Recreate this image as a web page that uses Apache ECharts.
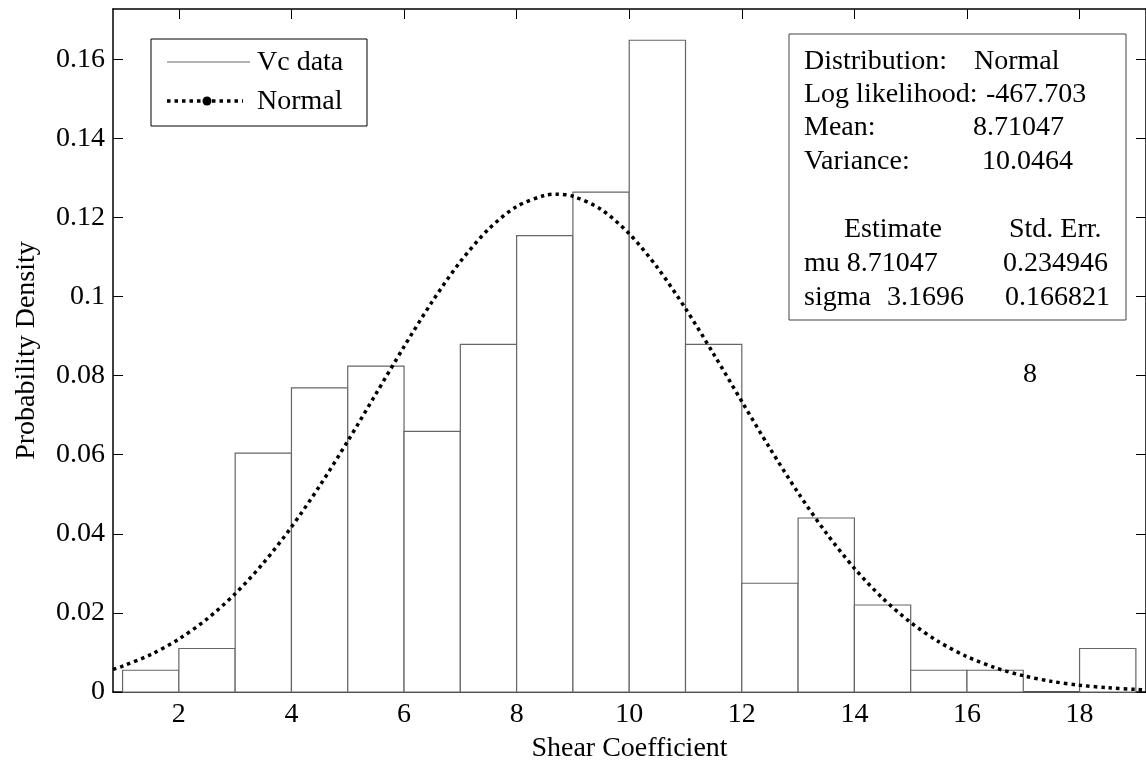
<!DOCTYPE html>
<html>
<head>
<meta charset="utf-8">
<script src="https://cdn.jsdelivr.net/npm/echarts@6/dist/echarts.min.js"></script>
<style>
html,body{margin:0;padding:0;background:#fff;}
#chart{width:1146px;height:768px;}
</style>
</head>
<body>
<div id="chart"></div>
<script>
// Histogram bin edges (Shear Coefficient) and densities
var binEdges = [1,2,3,4,5,6,7,8,9,10,11,12,13,14,15,16,17,18,19];
var densities = [0.0055,0.011,0.0604,0.0769,0.0824,0.0659,0.0879,0.1154,0.1264,0.1648,0.0879,0.0275,0.044,0.022,0.0055,0.0055,0,0.011];

// Fitted normal curve
var curveX = [0.83,1,1.5,2,2.5,3,3.5,4,4.5,5,5.5,6,6.5,7,7.5,8,8.5,8.71,9,9.5,10,10.5,11,11.5,12,12.5,13,13.5,14,14.5,15,15.5,16,16.5,17,17.5,18,18.5,19,19.18];
var curveY = [0.00573,0.00653,0.00946,0.01339,0.01846,0.02483,0.03259,0.04172,0.05209,0.06344,0.07536,0.08732,0.09870,0.10881,0.11702,0.12275,0.12559,0.12587,0.12535,0.12202,0.11587,0.10733,0.09697,0.08545,0.07346,0.06159,0.05038,0.04019,0.03128,0.02374,0.01758,0.01269,0.00894,0.00614,0.00412,0.00269,0.00172,0.00107,0.00065,0.00054];

var xTicks = [2,4,6,8,10,12,14,16,18];
var yTicks = [0,0.02,0.04,0.06,0.08,0.1,0.12,0.14,0.16];

var legendNames = ['Vc data','Normal'];
var statsLeft = ['Distribution:','Log likelihood:','Mean:','Variance:'];
var statsRight = ['Normal','-467.703','8.71047','10.0464'];
var estHeader = ['Estimate','Std. Err.'];
var estRows = [['mu 8.71047','','0.234946'],['sigma','3.1696','0.166821']];
var extraLabel = '8';

var FONT = 'Liberation Serif';
var FS = 28;

var barData = densities.map(function(d,i){ return [binEdges[i], binEdges[i+1], d]; });
var lineData = curveX.map(function(x,i){ return [x, curveY[i]]; });

var chart = echarts.init(document.getElementById('chart'), null, {renderer:'canvas'});

function txt(x, y, s, align){
  return {type:'text', x:x, y:y, z:100, style:{text:s, font: FS+'px "'+FONT+'"', fill:'#000', align:align||'left', verticalAlign:'middle'}};
}

var graphics = [];
// legend box
graphics.push({type:'rect', z:90, shape:{x:151, y:39, width:216, height:87}, style:{fill:'#fff', stroke:'#000', lineWidth:1}});
graphics.push({type:'line', z:100, shape:{x1:167, y1:62, x2:250, y2:62}, style:{stroke:'#666', lineWidth:1}});
graphics.push(txt(257, 63, legendNames[0]));
graphics.push({type:'line', z:100, shape:{x1:167, y1:101, x2:243, y2:101}, style:{stroke:'#000', lineWidth:3.5, lineDash:[3.5,4]}});
graphics.push({type:'circle', z:101, shape:{cx:207, cy:101, r:4.5}, style:{fill:'#000'}});
graphics.push(txt(257, 102, legendNames[1]));
// stats box
graphics.push({type:'rect', z:90, shape:{x:789, y:34, width:337, height:286}, style:{fill:'#fff', stroke:'#444', lineWidth:1}});
var rightX = [974, 986, 973, 982];
var rowsY = [62, 95, 128, 162];
for (var i=0;i<4;i++){
  graphics.push(txt(804, rowsY[i], statsLeft[i]));
  graphics.push(txt(rightX[i], rowsY[i], statsRight[i]));
}
graphics.push(txt(844, 230, estHeader[0]));
graphics.push(txt(1009, 230, estHeader[1]));
graphics.push(txt(804, 264, estRows[0][0]));
graphics.push(txt(1003, 264, estRows[0][2]));
graphics.push(txt(804, 298, estRows[1][0]));
graphics.push(txt(887, 298, estRows[1][1]));
graphics.push(txt(1005, 298, estRows[1][2]));
graphics.push(txt(1030, 375, extraLabel, 'center'));

var axisLine = {show:true, onZero:false, lineStyle:{color:'#000', width:1.5}};
var tickStyle = {color:'#000', width:1};

chart.setOption({
  animation:false,
  backgroundColor:'#fff',
  grid:{left:113, top:9, width:1034, height:684, containLabel:false},
  xAxis:[{
    type:'value', min:0.83, max:19.18, position:'bottom',
    axisLine:axisLine,
    axisTick:{show:true, inside:true, length:10, customValues:xTicks, lineStyle:tickStyle},
    axisLabel:{show:true, customValues:xTicks, margin:9, color:'#000', fontFamily:FONT, fontSize:FS},
    splitLine:{show:false},
    name:'Shear Coefficient', nameLocation:'middle', nameGap:43,
    nameTextStyle:{color:'#000', fontFamily:FONT, fontSize:FS}
  },{
    type:'value', min:0.83, max:19.18, position:'top',
    axisLine:axisLine,
    axisTick:{show:true, inside:true, length:10, customValues:xTicks, lineStyle:tickStyle},
    axisLabel:{show:false},
    splitLine:{show:false}
  }],
  yAxis:[{
    type:'value', min:0, max:0.1727, position:'left',
    axisLine:axisLine,
    axisTick:{show:true, inside:true, length:10, customValues:yTicks, lineStyle:tickStyle},
    axisLabel:{show:true, customValues:yTicks, margin:8, color:'#000', fontFamily:FONT, fontSize:FS},
    splitLine:{show:false},
    name:'Probability Density', nameLocation:'middle', nameGap:72, nameRotate:90,
    nameTextStyle:{color:'#000', fontFamily:FONT, fontSize:FS}
  },{
    type:'value', min:0, max:0.1727, position:'right',
    axisLine:axisLine,
    axisTick:{show:true, inside:true, length:10, customValues:yTicks, lineStyle:tickStyle},
    axisLabel:{show:false},
    splitLine:{show:false}
  }],
  series:[{
    name:'Vc data', type:'custom', xAxisIndex:0, yAxisIndex:0, z:2,
    data:barData,
    renderItem:function(params, api){
      var p0 = api.coord([api.value(0), api.value(2)]);
      var p1 = api.coord([api.value(1), 0]);
      return {type:'rect', shape:{x:p0[0], y:p0[1], width:p1[0]-p0[0], height:p1[1]-p0[1]},
        style:{fill:'#fff', stroke:'#666', lineWidth:1.2}};
    }
  },{
    name:'Normal', type:'line', xAxisIndex:0, yAxisIndex:0, z:3,
    data:lineData, showSymbol:false, smooth:0.3,
    lineStyle:{color:'#000', width:3.5, type:[3.5,4], cap:'butt'}
  }],
  graphic:graphics
});
</script>
</body>
</html>
